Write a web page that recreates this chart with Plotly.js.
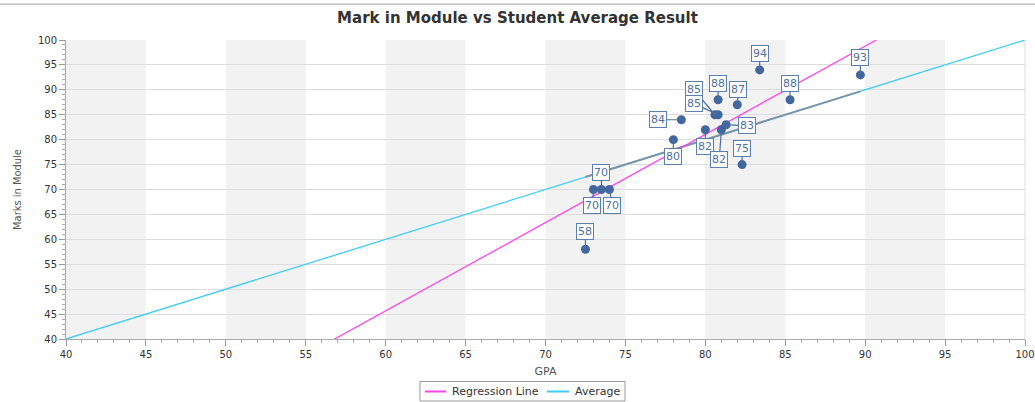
<!DOCTYPE html>
<html>
<head>
<meta charset="utf-8">
<script src="https://cdn.plot.ly/plotly-3.0.1.min.js"></script>
<style>html,body{margin:0;padding:0;background:#fff;}#chart{width:1035px;height:402px;}</style>
</head>
<body>
<div id="chart"></div>
<script>
// ---- data ----
const gpa   = [72.5, 73.0, 73.5, 74.0, 78.0, 78.5, 80.0, 80.6, 80.8, 80.8, 81.0, 81.3, 82.0, 82.3, 83.4, 85.3, 89.7];
const marks = [58,   70,   70,   70,   80,   84,   82,   85,   85,   88,   82,   83,   87,   75,   94,   88,   93];
const regressionX = [56.8, 90.7];
const regressionY = [40, 100];
const averageX = [40, 100];
const averageY = [40, 100];
const dataRangeX = [72.5, 89.7];
const dataRangeY = [72.5, 89.7];
const xTicks = [40, 45, 50, 55, 60, 65, 70, 75, 80, 85, 90, 95, 100];
const yTicks = [40, 45, 50, 55, 60, 65, 70, 75, 80, 85, 90, 95, 100];
const seriesNames = ['Regression Line', 'Average'];
const seriesColors = ['#ff44ee', '#3dcdf5'];

// label offsets (px) for each point's value box
const labelOffsets = [[0,-18],[-1,16],[0,-17],[3,16],[0,17],[-23,0],[0,17],[-21,-25],[-24,-11],[0,-16],[-2,30],[21,1],[1,-15],[0,-16],[0,-16],[0,-16],[0,-17]];

const traces = [
  {x: averageX, y: averageY, mode:'lines', name:seriesNames[1], line:{color:seriesColors[1], width:1.3}, hoverinfo:'skip'},
  {x: dataRangeX, y: dataRangeY, mode:'lines', line:{color:'#7b94a8', width:2}, hoverinfo:'skip'},
  {x: regressionX, y: regressionY, mode:'lines', name:seriesNames[0], line:{color:seriesColors[0], width:1.3}},
  {x: gpa, y: marks, mode:'markers', marker:{color:'#41679e', size:9, symbol:'circle'}}
];

const shapes = [];
for (let i = 0; i < xTicks.length - 1; i += 2) {
  shapes.push({type:'rect', xref:'x', yref:'paper', x0:xTicks[i], x1:xTicks[i+1], y0:0, y1:1, fillcolor:'#f2f2f2', line:{width:0}, layer:'below'});
}
shapes.push({type:'line', xref:'paper', yref:'paper', x0:-0.07, x1:1.02, y0:1.12, y1:1.12, line:{color:'#a0a0a0', width:1}});
shapes.push({type:'line', xref:'paper', yref:'paper', x0:1, x1:1, y0:0, y1:1, line:{color:'#dddddd', width:1}});

const annotations = gpa.map((g, i) => ({
  x: g, y: marks[i], xref:'x', yref:'y', text: String(marks[i]),
  showarrow:true, arrowhead:0, arrowwidth:1.2, arrowcolor:'#4f6f9a',
  ax: labelOffsets[i][0], ay: labelOffsets[i][1],
  bgcolor:'#ffffff', bordercolor:'#5b7fb0', borderwidth:1, borderpad:1,
  font:{family:'DejaVu Sans, Verdana, sans-serif', size:11, color:'#5070a0'}
}));

// legend box drawn below the plot
const legFont = {family:'DejaVu Sans, Verdana, sans-serif', size:11, color:'#333333'};
const legY = -0.1756;
shapes.push({type:'rect', xref:'paper', yref:'paper', x0:0.3691, x1:0.5829, y0:-0.2074, y1:-0.1421, line:{color:'#999999', width:1}, fillcolor:'#ffffff'});
const legItems = [{lx0:0.3743, lx1:0.3962, tx:0.4004}, {lx0:0.5016, lx1:0.5245, tx:0.5287}];
legItems.forEach((it, k) => {
  shapes.push({type:'line', xref:'paper', yref:'paper', x0:it.lx0, x1:it.lx1, y0:legY, y1:legY, line:{color:seriesColors[k], width:2}});
  annotations.push({xref:'paper', yref:'paper', x:it.tx, y:legY, xanchor:'left', yanchor:'middle', showarrow:false, text:seriesNames[k], font:legFont});
});

const layout = {
  width:1035, height:402,
  margin:{l:66, r:10, t:40, b:63, autoexpand:false},
  paper_bgcolor:'#ffffff', plot_bgcolor:'#ffffff',
  showlegend:false,
  title:{text:'<b>Mark in Module vs Student Average Result</b>', x:0.5, xanchor:'center', y:0.955, yanchor:'middle',
         font:{family:'DejaVu Sans, Verdana, sans-serif', size:15, color:'#333333'}},
  xaxis:{range:[40,100], tickvals:xTicks, ticks:'outside', ticklen:6, tickcolor:'#999999',
         showline:true, linecolor:'#aaaaaa', showgrid:false, zeroline:false, automargin:false,
         minor:{dtick:1, ticks:'outside', ticklen:3, tickcolor:'#aaaaaa', showgrid:false},
         tickfont:{family:'DejaVu Sans, Verdana, sans-serif', size:10, color:'#333333'},
         title:{text:'GPA', standoff:8, font:{family:'DejaVu Sans, Verdana, sans-serif', size:11, color:'#555555'}}},
  yaxis:{range:[40,100], tickvals:yTicks, ticks:'outside', ticklen:6, tickcolor:'#999999',
         showline:true, linecolor:'#aaaaaa', showgrid:true, gridcolor:'#dddddd', zeroline:false, automargin:false,
         minor:{dtick:1, ticks:'outside', ticklen:3, tickcolor:'#aaaaaa', showgrid:false},
         tickfont:{family:'DejaVu Sans, Verdana, sans-serif', size:10, color:'#333333'},
         title:{text:'Marks in Module', standoff:14, font:{family:'DejaVu Sans Condensed, Liberation Sans Narrow, sans-serif', size:11, color:'#555555'}}},
  shapes: shapes,
  annotations: annotations
};
Plotly.newPlot('chart', traces, layout, {displayModeBar:false, staticPlot:true});
</script>
</body>
</html>
